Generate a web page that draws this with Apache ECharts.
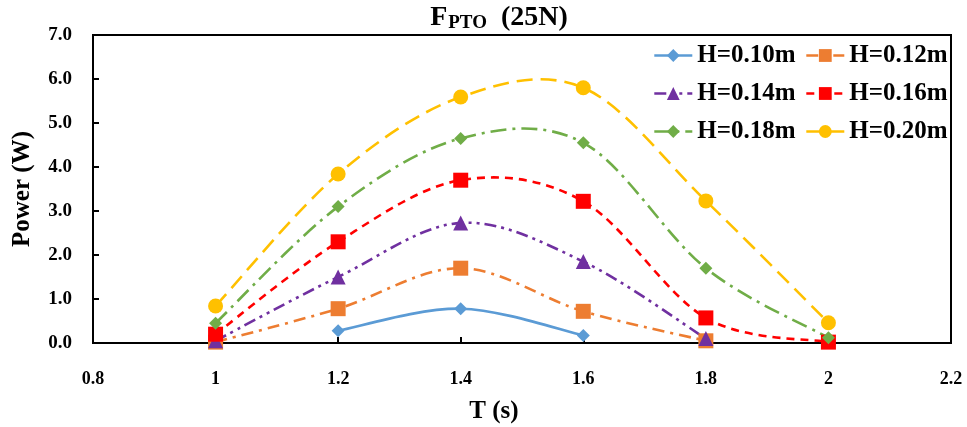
<!DOCTYPE html>
<html><head><meta charset="utf-8">
<script src="https://cdn.jsdelivr.net/npm/echarts@6/dist/echarts.min.js"></script>
<style>html,body{margin:0;padding:0;background:#fff}#c{width:967px;height:427px}</style>
</head><body><div id="c"></div>
<script>
const periods = [1.0, 1.2, 1.4, 1.6, 1.8, 2.0];
const names = ['H=0.10m','H=0.12m','H=0.14m','H=0.16m','H=0.18m','H=0.20m'];
const h010 = [null, 0.28, 0.78, 0.17, null, null];
const h012 = [0.02, 0.78, 1.70, 0.72, 0.05, null];
const h014 = [0.05, 1.50, 2.73, 1.85, 0.10, null];
const h016 = [0.20, 2.30, 3.70, 3.22, 0.57, 0.02];
const h018 = [0.45, 3.10, 4.65, 4.55, 1.70, 0.12];
const h020 = [0.84, 3.84, 5.59, 5.80, 3.23, 0.46];
const xTicks = ['0.8','1','1.2','1.4','1.6','1.8','2','2.2'];
const yTicks = ['0.0','1.0','2.0','3.0','4.0','5.0','6.0','7.0'];

const values = [h010,h012,h014,h016,h018,h020];
const colors = ['#5B9BD5','#ED7D31','#7030A0','#FF0000','#70AD47','#FFC000'];
const symbols = ['diamond','rect','triangle','rect','diamond','circle'];
const symSizes = [13,15,15,15,13,15];
const dashes = ['solid',[12,6,3,6],[12,5,3,5,3,5],[8,6],[16,6,3,6],[16,8]];
const F = 'Liberation Serif, Times New Roman, serif';
const LW = 2.6;

// Excel-like smooth (Catmull-Rom, tension 1/6) through pixel coords
function smoothPath(p){
  if (p.length < 2) return '';
  let d = 'M' + p[0][0] + ' ' + p[0][1];
  for (let i = 0; i < p.length - 1; i++){
    const p0 = p[i-1] || p[i], p1 = p[i], p2 = p[i+1], p3 = p[i+2] || p[i+1];
    const c1 = [p1[0] + (p2[0]-p0[0])/6, p1[1] + (p2[1]-p0[1])/6];
    const c2 = [p2[0] - (p3[0]-p1[0])/6, p2[1] - (p3[1]-p1[1])/6];
    d += ' C' + c1[0] + ' ' + c1[1] + ' ' + c2[0] + ' ' + c2[1] + ' ' + p2[0] + ' ' + p2[1];
  }
  return d;
}

const seriesData = values.map(v => periods.map((p,j)=>v[j]==null?null:[p,v[j]]).filter(d=>d));

const curveSeries = seriesData.map((pts,i)=>({
  type:'custom', name:'curve'+i, silent:true, z:2+i,
  data: pts,
  renderItem:(params, api)=>{
    if (params.dataIndex !== 0) return null;
    const px = pts.map(pt=>api.coord(pt));
    return {type:'path', shape:{pathData: smoothPath(px)},
      style:{fill:'none', stroke:colors[i], lineWidth:LW,
        lineDash: dashes[i]==='solid'?null:dashes[i]}};
  }
}));

const markerSeries = seriesData.map((pts,i)=>({
  name: names[i], type:'line', smooth:false,
  data: pts,
  symbol: symbols[i], symbolSize: symSizes[i], showSymbol:true,
  itemStyle:{color:colors[i]},
  lineStyle:{color:colors[i], width:LW, type:dashes[i], opacity:0},
  z: 10+i
}));

const legendItems = names.map((n,i)=>({name:n,
  lineStyle:{color:colors[i], width:LW, type:dashes[i], opacity:1}}));

const legendCommon = {orient:'vertical', itemWidth:38, itemHeight:16, itemGap:13,
  textStyle:{fontFamily:F, fontWeight:'bold', fontSize:25, color:'#000'}};

const chart = echarts.init(document.getElementById('c'));
chart.setOption({
  animation:false,
  title:{text:'{a|F}{b|PTO}{a|  (25N)}', left:494, textAlign:'center', top:-2, textStyle:{rich:{
    a:{fontFamily:F, fontWeight:'bold', fontSize:28, color:'#000'},
    b:{fontFamily:F, fontWeight:'bold', fontSize:19, color:'#000', verticalAlign:'bottom', padding:[11,0,0,1]}}}},
  legend:[
    Object.assign({left:648, top:38, data:[legendItems[0],legendItems[2],legendItems[4]]}, legendCommon),
    Object.assign({left:800, top:38, data:[legendItems[1],legendItems[3],legendItems[5]]}, legendCommon)
  ],
  grid:{left:93, right:16, top:35, bottom:84, show:true, borderColor:'#000', borderWidth:2,
    outerBoundsMode:'none', containLabel:false},
  xAxis:{type:'value', min:0.8, max:2.2, interval:0.2,
    name:'T (s)', nameLocation:'middle', nameGap:56,
    nameTextStyle:{fontFamily:F, fontWeight:'bold', fontSize:25, color:'#000', padding:[0,56,0,0]},
    axisLine:{lineStyle:{color:'#000', width:2}},
    axisTick:{inside:true, length:6, lineStyle:{color:'#000', width:2}},
    axisLabel:{margin:27, fontFamily:F, fontWeight:'bold', fontSize:18, color:'#000',
      formatter:(v)=>xTicks[Math.round((v-0.8)/0.2)]},
    splitLine:{show:false}},
  yAxis:{type:'value', min:0, max:7, interval:1,
    name:'Power (W)', nameLocation:'middle', nameGap:58,
    nameTextStyle:{fontFamily:F, fontWeight:'bold', fontSize:25, color:'#000'},
    axisLine:{show:true, lineStyle:{color:'#000', width:2}},
    axisTick:{show:true, inside:true, length:6, lineStyle:{color:'#000', width:2}},
    axisLabel:{margin:21, fontFamily:F, fontWeight:'bold', fontSize:19, color:'#000',
      formatter:(v)=>yTicks[Math.round(v)]},
    splitLine:{show:false}},
  series: curveSeries.concat(markerSeries)
});
</script></body></html>
